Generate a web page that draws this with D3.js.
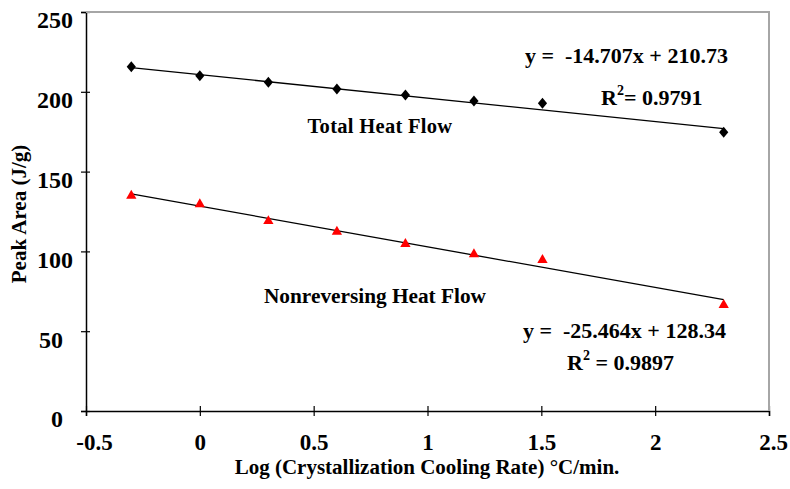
<!DOCTYPE html>
<html>
<head>
<meta charset="utf-8">
<script src="https://cdn.jsdelivr.net/npm/d3@7"></script>
<style>
  body { margin: 0; background: #fff; }
  text { font-family: "Liberation Serif", "Times New Roman", serif; font-weight: bold; }
</style>
</head>
<body>
<div id="chart"></div>
<script>
// Data
var logRate = [-0.301, 0, 0.301, 0.602, 0.903, 1.204, 1.505, 2.301];
var totalHeat = [215.7, 210.1, 206.0, 201.8, 198.0, 194.2, 192.8, 174.6];
var nonrevHeat = [134.9, 129.5, 119.0, 112.3, 104.6, 98.2, 94.6, 66.4];
var trendSlope = [-14.707, -25.464];
var trendIntercept = [210.73, 128.34];
var xTicks = [-0.5, 0, 0.5, 1, 1.5, 2, 2.5];
var yTicks = [0, 50, 100, 150, 200, 250];

var svgWidth = 790;
var svgHeight = 489;
var margin = { top: 12, right: 21, bottom: 78, left: 86 };
var width = svgWidth - margin.left - margin.right;
var height = svgHeight - margin.top - margin.bottom;

var svg = d3.select("#chart")
  .append("svg")
  .attr("width", svgWidth)
  .attr("height", svgHeight);

var chartGroup = svg.append("g")
  .attr("transform", `translate(${margin.left}, ${margin.top})`);

var x = d3.scaleLinear().domain([-0.5, 2.5]).range([0, width]);
var y = d3.scaleLinear().domain([0, 250]).range([height, 0]);

// gray plot border top and right
var border = chartGroup.append("path")
  .attr("d", `M0,0H${width}V${height}`)
  .attr("fill", "none")
  .attr("stroke", "#a6a6a6")
  .attr("stroke-width", 2);

// Axes
var yAxis = chartGroup.append("g")
  .call(d3.axisLeft(y).tickValues(yTicks).tickSize(5).tickPadding(8));
yAxis.selectAll(".tick line").attr("x1", 4);
yAxis.selectAll(".tick text")
  .attr("font-size", 24)
  .attr("dy", "0.66em")
  .attr("dx", function(d) { return d < 100 ? -10 : 0; });

var xAxis = chartGroup.append("g")
  .attr("transform", `translate(0, ${height})`)
  .call(d3.axisBottom(x).tickValues(xTicks).tickSize(5).tickPadding(18)
    .tickFormat(function(d) { return d3.format("")(d).replace("−", "-"); }));
xAxis.selectAll(".tick line").attr("y1", -5);
xAxis.selectAll(".tick text")
  .attr("font-size", 23)
  .attr("dx", function(d) { return d < 0 ? 8 : (d >= 2.5 ? 4 : 0); });

svg.selectAll(".domain").attr("stroke", "#000").attr("stroke-width", 1.5);
svg.selectAll(".tick line").attr("stroke", "#000").attr("stroke-width", 1.2);
svg.selectAll(".tick text").attr("fill", "#000").attr("font-family", "Liberation Serif").attr("font-weight", "bold");
border.raise();

// Trendlines
var xStart = d3.min(logRate), xEnd = d3.max(logRate);
trendSlope.forEach(function(m, i) {
  var b = trendIntercept[i];
  chartGroup.append("line")
    .attr("x1", x(xStart)).attr("y1", y(m * xStart + b))
    .attr("x2", x(xEnd)).attr("y2", y(m * xEnd + b))
    .attr("stroke", "#000")
    .attr("stroke-width", 1.3);
});

// Markers
var diamond = {
  draw: function(context) {
    context.moveTo(0, -5.5);
    context.lineTo(4.6, 0);
    context.lineTo(0, 5.5);
    context.lineTo(-4.6, 0);
    context.closePath();
  }
};

chartGroup.selectAll(".total")
  .data(logRate)
  .enter()
  .append("path")
  .attr("class", "total")
  .attr("d", d3.symbol().type(diamond))
  .attr("transform", function(d, i) { return `translate(${x(d)}, ${y(totalHeat[i])})`; })
  .attr("fill", "#000");

chartGroup.selectAll(".nonrev")
  .data(logRate)
  .enter()
  .append("path")
  .attr("class", "nonrev")
  .attr("d", d3.symbol().type(d3.symbolTriangle).size(46))
  .attr("transform", function(d, i) { return `translate(${x(d)}, ${y(nonrevHeat[i])})`; })
  .attr("fill", "#ff0000");

// Series labels and equations
svg.append("text")
  .attr("x", 380).attr("y", 133)
  .attr("text-anchor", "middle")
  .attr("font-size", 20.5)
  .attr("letter-spacing", 0.3)
  .text("Total Heat Flow");

svg.append("text")
  .attr("x", 375).attr("y", 303)
  .attr("text-anchor", "middle")
  .attr("font-size", 21.3)
  .text("Nonreversing Heat Flow");

function equation(xPos, yPos, txt) {
  svg.append("text")
    .attr("x", xPos).attr("y", yPos)
    .attr("font-size", 22)
    .attr("xml:space", "preserve")
    .text(txt);
}
function rsq(xPos, yPos, gap, val) {
  var t = svg.append("text")
    .attr("x", xPos).attr("y", yPos)
    .attr("font-size", 22)
    .attr("xml:space", "preserve");
  t.append("tspan").text("R");
  t.append("tspan").attr("dy", -10).attr("font-size", 14).text("2");
  t.append("tspan").attr("dy", 10).text(gap + "= " + val);
}

equation(525, 63, "y =  -14.707x + 210.73");
rsq(601, 105, "", "0.9791");
equation(523, 338, "y =  -25.464x + 128.34");
rsq(567, 370, " ", "0.9897");

// Axis titles
svg.append("text")
  .attr("x", 427).attr("y", 474)
  .attr("text-anchor", "middle")
  .attr("font-size", 21)
  .text("Log (Crystallization Cooling Rate) °C/min.");

svg.append("text")
  .attr("transform", "translate(26, 214) rotate(-90)")
  .attr("text-anchor", "middle")
  .attr("font-size", 21)
  .text("Peak Area (J/g)");
</script>
</body>
</html>
